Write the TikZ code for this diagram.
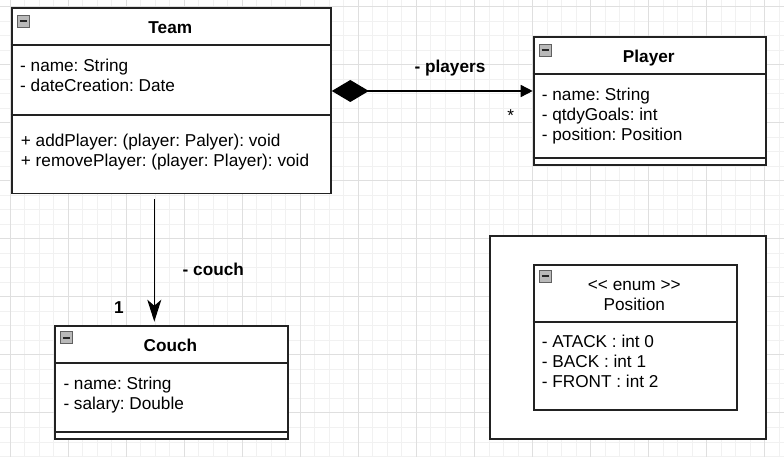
\documentclass[tikz,border=0pt]{standalone}
\usepackage{fontspec}
\setmainfont{Liberation Sans}
\usetikzlibrary{arrows.meta}
\definecolor{minorgrid}{HTML}{F1F1F1}
\definecolor{majorgrid}{HTML}{DFDFDF}
\definecolor{boxline}{HTML}{222222}
\frenchspacing
\tikzset{
  umlbox/.style={draw=boxline, line width=1.8pt, fill=white, rectangle, inner sep=0pt, anchor=north west},
  sepline/.style={draw=boxline, line width=1.8pt},
  txt/.style={inner sep=0pt, anchor=base west, align=left, font=\fontsize{17.2}{20}\selectfont},
  ttl/.style={inner sep=0pt, anchor=base, align=center, font=\fontsize{17.2}{20}\selectfont\bfseries},
  plaintitle/.style={inner sep=0pt, anchor=base, align=center, font=\fontsize{17.2}{20}\selectfont},
  lbl/.style={inner sep=0pt, anchor=base, font=\fontsize{17.2}{20}\selectfont\bfseries},
  mult/.style={inner sep=0pt, anchor=base, font=\fontsize{17.2}{20}\selectfont},
  conn/.style={draw=black, line width=1.5pt},
  collapse/.pic={
    \draw[fill=gray!55, draw=gray!75!black, line width=0.7pt] (0,0) rectangle (12,12);
    \draw[line width=1.8pt, black!85] (2.5,6) -- (9.5,6);
  }
}
\begin{document}
\begin{tikzpicture}[x=1pt, y=-1pt]
\useasboundingbox (0,0) rectangle (784,457);
\fill[white] (0,0) rectangle (784,457);
% grid
\foreach \i in {-1,...,53} \draw[minorgrid, line width=0.9pt] ({10+14.515*\i},0) -- ({10+14.515*\i},457);
\foreach \i in {-1,...,31} \draw[minorgrid, line width=0.9pt] (0,{6.5+14.515*\i}) -- (784,{6.5+14.515*\i});
\foreach \i in {0,...,13} \draw[majorgrid, line width=0.9pt] ({10+58.06*\i},0) -- ({10+58.06*\i},457);
\foreach \i in {0,...,7} \draw[majorgrid, line width=0.9pt] (0,{6.5+58.06*\i}) -- (784,{6.5+58.06*\i});

% Team
\node[umlbox, minimum width=319.3pt, minimum height=185.4pt] (team) at (10.7,7.3) {};
\draw[sepline] (team.west |- 0,45) -- (team.east |- 0,45);
\draw[sepline] (team.west |- 0,115) -- (team.east |- 0,115);
\pic at (17.3,15) {collapse};
\node[ttl] (teamtitle) at (170.3,33.5) {Team};
\node[txt] (teamattr) at (20,91.7) {- name: String\\- dateCreation: Date};
\node[txt] (teamops) at (20.7,166.8) {+ addPlayer: (player: Palyer): void\\+ removePlayer: (player: Player): void};

% Player
\node[umlbox, minimum width=232.3pt, minimum height=128pt] (player) at (532.7,36) {};
\draw[sepline] (player.west |- 0,74) -- (player.east |- 0,74);
\draw[sepline] (player.west |- 0,158.3) -- (player.east |- 0,158.3);
\pic at (539,44) {collapse};
\node[ttl] (playertitle) at (648.8,62.2) {Player};
\node[txt] (playerattr) at (541.7,140.4) {- name: String\\- qtdyGoals: int\\- position: Position};

% Couch
\node[umlbox, minimum width=232.4pt, minimum height=113pt] (couch) at (54.3,325) {};
\draw[sepline] (couch.west |- 0,362.7) -- (couch.east |- 0,362.7);
\draw[sepline] (couch.west |- 0,432.3) -- (couch.east |- 0,432.3);
\pic at (60.7,331.7) {collapse};
\node[ttl] (couchtitle) at (170.5,351.2) {Couch};
\node[txt] (couchattr) at (63.3,409.3) {- name: String\\- salary: Double};

% Enum
\node[umlbox, minimum width=275.7pt, minimum height=202.7pt] (enumframe) at (489.3,235) {};
\node[umlbox, minimum width=203.3pt, minimum height=145pt] (enumbox) at (532.7,264) {};
\draw[sepline] (enumbox.west |- 0,322.3) -- (enumbox.east |- 0,322.3);
\pic at (539.3,270) {collapse};
\node[plaintitle] (enumtitle) at (634.3,310.5) {<\kern0pt< enum >\kern0pt>\\Position};
\node[txt] (enumattr) at (541.7,387.8) {- ATACK : int 0\\- BACK : int 1\\- FRONT : int 2};

% connectors
\draw[conn, {Diamond[length=37pt,width=22pt]}-{Triangle[length=12pt,width=12pt]}] (team.east |- 0,91) -- (player.west |- 0,91);
\draw[conn, shorten <=4.6pt, shorten >=3.3pt, -{Stealth[length=22pt,width=14pt,inset=6pt]}] (team.south -| 154.3,0) -- (couch.north -| 154.3,0);

% labels
\node[lbl] (lplayers) at (450,72.9) {- players};
\node[mult] (lstar) at (510.7,121.3) {*};
\node[lbl] (lcouch) at (213.3,275.5) {- couch};
\node[lbl] (lone) at (119,313.5) {1};
\end{tikzpicture}
\end{document}
